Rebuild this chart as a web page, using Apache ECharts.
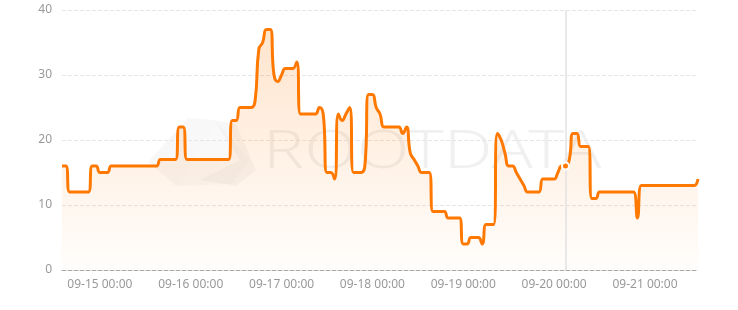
<!DOCTYPE html>
<html>
<head>
<meta charset="utf-8">
<script src="https://cdn.jsdelivr.net/npm/echarts@6/dist/echarts.min.js"></script>
<style>
html,body{margin:0;padding:0;background:#fff;}
#chart{width:738px;height:310px;}
</style>
</head>
<body>
<div id="chart"></div>
<script>
// Hourly series, 09-14 14:00 .. 09-21 14:00
const startMonth = 9, startDay = 14, startHour = 14, hourCount = 169;
const values = [
  16,16,12,12,12,12,12,12,16,16,
  15,15,15,16,16,16,16,16,16,16,
  16,16,16,16,16,16,17,17,17,17,
  17,22,22,17,17,17,17,17,17,17,
  17,17,17,17,17,23,23,25,25,25,
  25,26,34,35,37,37,30,29,30,31,
  31,31,32,24,24,24,24,24,25,24,
  15,15,14,24,23,24,25,15,15,15,
  16,27,27,25,24,22,22,22,22,22,
  21,22,18,17,16,15,15,15,9,9,
  9,9,8,8,8,8,4,4,5,5,
  5,4,7,7,7,21,20,18,16,16,
  15,14,13,12,12,12,12,14,14,14,
  14,15,16,16,17,21,21,19,19,19,
  11,11,12,12,12,12,12,12,12,12,
  12,12,8,13,13,13,13,13,13,13,
  13,13,13,13,13,13,13,13,14
];
const yTicks = [0, 10, 20, 30, 40];
const highlightIndex = 133;

const pad = n => (n < 10 ? '0' : '') + n;
const categories = [];
for (let i = 0; i < hourCount; i++) {
  const d = new Date(2024, startMonth - 1, startDay, startHour + i);
  categories.push(pad(d.getMonth() + 1) + '-' + pad(d.getDate()) + ' ' + pad(d.getHours()) + ':00');
}

const chart = echarts.init(document.getElementById('chart'), null, {renderer: 'canvas'});
const font = 'Noto Sans';
chart.setOption({
  animation: false,
  grid: {left: 62, right: 40, top: 10, bottom: 40, containLabel: false},
  graphic: [
    {
      type: 'polygon', z: 0, silent: true,
      shape: {points: [[148,162],[188,118],[214,120],[250,160],[232,184],[176,186]]},
      style: {fill: new echarts.graphic.LinearGradient(0,0,1,1,[{offset:0,color:'rgba(0,0,0,0.035)'},{offset:1,color:'rgba(0,0,0,0.015)'}])}
    },
    {
      type: 'polygon', z: 0, silent: true,
      shape: {points: [[200,180],[240,160],[214,120],[236,124],[256,170],[236,186]]},
      style: {fill: 'rgba(0,0,0,0.03)'}
    },
    {
      type: 'text', z: 0, silent: true,
      x: 263, y: 126, scaleX: 1.27, scaleY: 1,
      style: {text: 'ROOTDATA', font: '300 54px "Noto Sans"', fill: 'rgba(0,0,0,0.06)'}
    }
  ],
  xAxis: {
    type: 'category',
    boundaryGap: false,
    data: categories,
    axisLine: {lineStyle: {color: '#aaa', type: 'dashed', width: 1}},
    axisTick: {show: false},
    axisLabel: {
      color: '#999', fontSize: 12, fontFamily: font, margin: 9,
      interval: (idx, val) => val.endsWith('00:00')
    },
    splitLine: {show: false}
  },
  yAxis: {
    type: 'value',
    min: yTicks[0], max: yTicks[yTicks.length - 1], interval: yTicks[1] - yTicks[0],
    axisLine: {show: false},
    axisTick: {show: false},
    axisLabel: {color: '#999', fontSize: 12, fontFamily: font, margin: 10},
    splitLine: {lineStyle: {color: '#e6e6e6', type: 'dashed'}}
  },
  series: [{
    type: 'line',
    data: values,
    smooth: true,
    showSymbol: false,
    z: 3,
    lineStyle: {color: '#ff7800', width: 3},
    itemStyle: {color: '#ff7800'},
    areaStyle: {
      color: new echarts.graphic.LinearGradient(0, 0, 0, 1, [
        {offset: 0, color: 'rgba(255,120,0,0.28)'},
        {offset: 1, color: 'rgba(255,120,0,0.02)'}
      ])
    },
    markLine: {
      silent: true, symbol: 'none', animation: false,
      label: {show: false},
      lineStyle: {color: '#e2e2e2', type: 'solid', width: 1.5},
      data: [{xAxis: categories[highlightIndex]}]
    },
    markPoint: {
      silent: true, animation: false,
      symbol: 'circle', symbolSize: 7,
      label: {show: false},
      itemStyle: {color: '#ff7800', borderColor: '#fff', borderWidth: 2},
      data: [{coord: [categories[highlightIndex], values[highlightIndex]]}]
    }
  }]
});
</script>
</body>
</html>
